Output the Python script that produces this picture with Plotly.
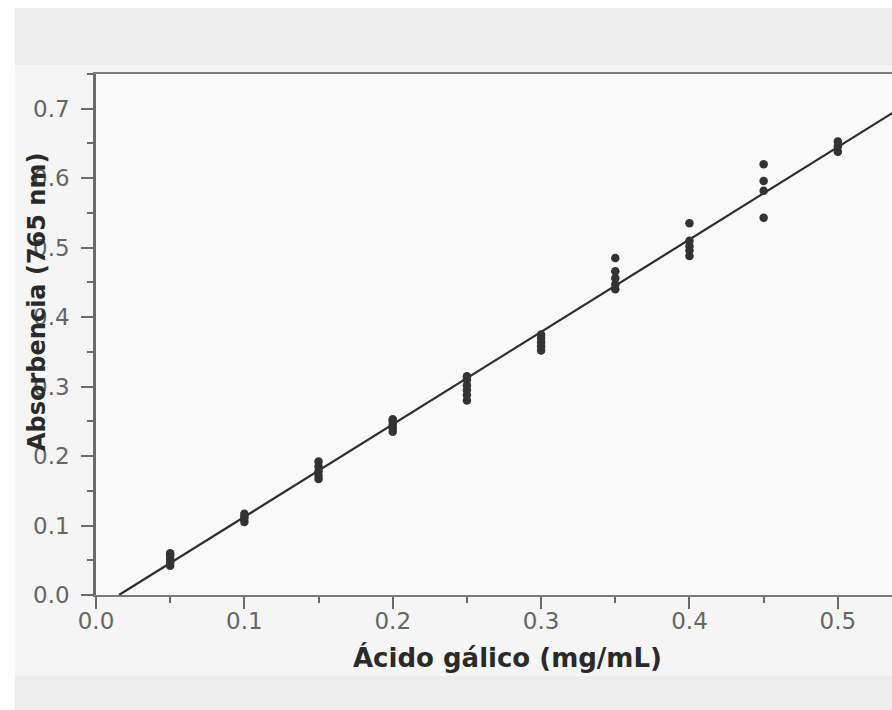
import plotly.graph_objects as go

# ---- data ----
concentrations = [0.05, 0.10, 0.15, 0.20, 0.25, 0.30, 0.35, 0.40, 0.45, 0.50]
replicates = [
    [0.042, 0.047, 0.052, 0.057, 0.060],
    [0.105, 0.110, 0.113, 0.117],
    [0.167, 0.172, 0.178, 0.185, 0.192],
    [0.235, 0.240, 0.245, 0.250, 0.253],
    [0.280, 0.288, 0.295, 0.302, 0.310, 0.315],
    [0.352, 0.358, 0.364, 0.370, 0.375],
    [0.440, 0.447, 0.456, 0.466, 0.485],
    [0.488, 0.496, 0.502, 0.510, 0.535],
    [0.543, 0.582, 0.596, 0.620],
    [0.638, 0.646, 0.653],
]
fit_slope = 1.331
fit_intercept = -0.0206
fit_x_end = 0.56

x_tick_vals = [0.0, 0.1, 0.2, 0.3, 0.4, 0.5]
x_tick_text = ["0.0", "0.1", "0.2", "0.3", "0.4", "0.5"]
y_tick_vals = [0.0, 0.1, 0.2, 0.3, 0.4, 0.5, 0.6, 0.7]
y_tick_text = ["0.0", "0.1", "0.2", "0.3", "0.4", "0.5", "0.6", "0.7"]

x_title = "Ácido gálico (mg/mL)"
y_title = "Absorbencia (765 nm)"

# ---- build ----
pts_x = [c for c, reps in zip(concentrations, replicates) for _ in reps]
pts_y = [v for reps in replicates for v in reps]

fit_x0 = -fit_intercept / fit_slope
line_x = [fit_x0, fit_x_end]
line_y = [fit_slope * x + fit_intercept for x in line_x]

W, H = 892, 710
ML, MR, MT, MB = 96, 0, 74, 115
PW, PH = W - ML - MR, H - MT - MB


def px(xp):  # window pixel -> paper x
    return (xp - ML) / PW


def py(yp):  # window pixel -> paper y
    return (H - MB - yp) / PH


fig = go.Figure()
fig.add_trace(go.Scatter(
    x=line_x, y=line_y, mode="lines",
    line=dict(color="#2e2e2e", width=2.2),
    hoverinfo="skip", cliponaxis=True, showlegend=False,
))
fig.add_trace(go.Scatter(
    x=pts_x, y=pts_y, mode="markers",
    marker=dict(color="#333333", size=8.5, symbol="circle"),
    showlegend=False,
))

axis_font = dict(family="DejaVu Sans", size=23, color="#666666")

fig.update_layout(
    width=W, height=H,
    margin=dict(l=ML, r=MR, t=MT, b=MB, pad=0),
    paper_bgcolor="#f5f5f5",
    plot_bgcolor="#f9f9f9",
    showlegend=False,
    xaxis=dict(
        range=[0, 0.5365],
        tickvals=x_tick_vals, ticktext=x_tick_text,
        ticks="outside", ticklen=12, tickwidth=2, tickcolor="#6a6a6a",
        minor=dict(dtick=0.05, ticks="outside", ticklen=6, tickwidth=2,
                   tickcolor="#6a6a6a", showgrid=False),
        showline=True, linecolor="#7a7a7a", linewidth=2, mirror=True,
        showgrid=False, zeroline=False,
        tickfont=axis_font, ticklabelstandoff=-8,
    ),
    yaxis=dict(
        range=[0, 0.75],
        tickvals=y_tick_vals, ticktext=y_tick_text,
        ticks="outside", ticklen=12, tickwidth=2, tickcolor="#6a6a6a",
        minor=dict(dtick=0.05, ticks="outside", ticklen=6, tickwidth=2,
                   tickcolor="#6a6a6a", showgrid=False),
        showline=True, linecolor="#6a6a6a", linewidth=2.5,
        showgrid=False, zeroline=False,
        tickfont=axis_font, ticklabelstandoff=7,
    ),
    shapes=[
        dict(type="rect", xref="paper", yref="paper", layer="below",
             x0=px(-10), x1=px(15), y0=py(720), y1=py(-10),
             fillcolor="#fdfdfd", line=dict(width=0)),
        dict(type="rect", xref="paper", yref="paper", layer="below",
             x0=px(15), x1=px(900), y0=py(8), y1=py(-10),
             fillcolor="#fdfdfd", line=dict(width=0)),
        dict(type="rect", xref="paper", yref="paper", layer="below",
             x0=px(15), x1=px(900), y0=py(65), y1=py(8),
             fillcolor="#ededed", line=dict(width=0)),
        dict(type="rect", xref="paper", yref="paper", layer="below",
             x0=px(15), x1=px(900), y0=py(720), y1=py(676),
             fillcolor="#ededed", line=dict(width=0)),
    ],
    annotations=[
        dict(text=x_title, xref="paper", yref="paper",
             x=px(507), y=py(657), xanchor="center", yanchor="middle",
             showarrow=False,
             font=dict(family="DejaVu Sans", size=26, color="#2a2a2a", weight="bold")),
        dict(text=y_title, xref="paper", yref="paper",
             x=px(37), y=py(302), xanchor="center", yanchor="middle",
             textangle=-90, showarrow=False,
             font=dict(family="DejaVu Sans", size=24, color="#2a2a2a", weight="bold")),
    ],
)

page_fix = (
    "document.documentElement.style.overflow='hidden';"
    "document.body.style.margin='0';"
    "document.body.style.overflow='hidden';"
)
fig.write_html("out.html", post_script=page_fix,
               config={"displayModeBar": False})
